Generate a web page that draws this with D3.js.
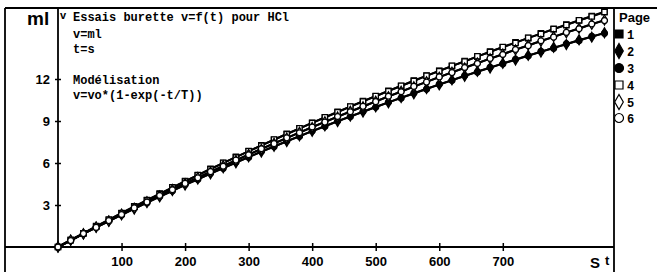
<!DOCTYPE html>
<meta charset="utf-8">
<script src="https://d3js.org/d3.v7.min.js"></script>
<style>
  body { margin: 0; background: #fff; }
  svg { display: block; }
  .mono { font-family: "Liberation Mono", "DejaVu Sans Mono", monospace; font-weight: bold; font-size: 12px; }
  .sans { font-family: "Liberation Sans", Arial, sans-serif; font-weight: bold; }
</style>
<div id="chart"></div>
<script>
// time (s), one reading every 20 s
const times = [0, 20, 40, 60, 80, 100, 120, 140, 160, 180, 200, 220, 240, 260, 280, 300,
  320, 340, 360, 380, 400, 420, 440, 460, 480, 500, 520, 540, 560, 580, 600, 620,
  640, 660, 680, 700, 720, 740, 760, 780, 800, 820, 840, 860];

// volume (ml) per page
const page1 = [0, 0.52, 0.98, 1.49, 1.93, 2.43, 2.90, 3.33, 3.82, 4.24, 4.71, 5.13, 5.59, 5.99, 6.44, 6.83,
  7.27, 7.65, 8.09, 8.46, 8.88, 9.25, 9.66, 10.02, 10.42, 10.77, 11.16, 11.50, 11.89, 12.22, 12.59, 12.92,
  13.28, 13.60, 13.96, 14.27, 14.62, 14.92, 15.26, 15.55, 15.89, 16.18, 16.50, 16.80];
const page2 = [0, 0.48, 0.93, 1.41, 1.84, 2.31, 2.72, 3.18, 3.58, 4.03, 4.42, 4.86, 5.23, 5.66, 6.02, 6.44,
  6.79, 7.20, 7.53, 7.94, 8.26, 8.65, 8.96, 9.35, 9.64, 10.02, 10.31, 10.68, 10.95, 11.32, 11.58, 11.94,
  12.19, 12.55, 12.78, 13.13, 13.36, 13.70, 13.92, 14.26, 14.46, 14.80, 14.99, 15.31];
const page3 = [0, 0.46, 0.95, 1.38, 1.86, 2.28, 2.75, 3.15, 3.61, 4.00, 4.45, 4.82, 5.26, 5.62, 6.05, 6.40,
  6.82, 7.16, 7.57, 7.89, 8.29, 8.61, 9.00, 9.30, 9.68, 9.98, 10.35, 10.63, 11.00, 11.27, 11.63, 11.89,
  12.25, 12.49, 12.84, 13.08, 13.41, 13.64, 13.97, 14.19, 14.52, 14.73, 15.05, 15.26];
const page4 = [0, 0.48, 0.97, 1.45, 1.96, 2.40, 2.87, 3.36, 3.78, 4.26, 4.68, 5.14, 5.55, 6.01, 6.40, 6.85,
  7.24, 7.68, 8.05, 8.48, 8.85, 9.27, 9.62, 10.04, 10.39, 10.79, 11.13, 11.52, 11.85, 12.24, 12.56, 12.94,
  13.25, 13.62, 13.92, 14.29, 14.58, 14.94, 15.22, 15.58, 15.85, 16.20, 16.46, 16.78];
const page5 = [0, 0.49, 0.94, 1.43, 1.86, 2.35, 2.77, 3.24, 3.65, 4.11, 4.52, 4.97, 5.36, 5.80, 6.18, 6.62,
  6.99, 7.41, 7.78, 8.19, 8.54, 8.95, 9.29, 9.69, 10.02, 10.41, 10.74, 11.12, 11.44, 11.81, 12.12, 12.49,
  12.79, 13.15, 13.44, 13.79, 14.08, 14.42, 14.70, 15.03, 15.30, 15.63, 15.90, 16.22];
const page6 = [0, 0.46, 0.96, 1.40, 1.89, 2.32, 2.79, 3.21, 3.68, 4.09, 4.54, 4.94, 5.38, 5.77, 6.21, 6.59,
  7.02, 7.38, 7.80, 8.16, 8.57, 8.92, 9.32, 9.66, 10.05, 10.38, 10.77, 11.09, 11.47, 11.78, 12.15, 12.46,
  12.82, 13.11, 13.47, 13.75, 14.11, 14.38, 14.73, 14.99, 15.33, 15.59, 15.93, 16.17];

const pageNames = ["1", "2", "3", "4", "5", "6"];
const xTicks = [100, 200, 300, 400, 500, 600, 700];
const yTicks = [3, 6, 9, 12];
const noteLines = ["Essais burette v=f(t) pour HCl", "v=ml", "t=s", "", "Modélisation", "v=vo*(1-exp(-t/T))"];

const W = 657, H = 272;
const svg = d3.select("#chart").append("svg").attr("width", W).attr("height", H);

const x = d3.scaleLinear().domain([0, 875]).range([58, 614]);
const y = d3.scaleLinear().domain([0, 239 / 14]).range([247, 8]);

// frame
const frame = svg.append("g").attr("stroke", "#000").attr("stroke-width", 1.8);
frame.append("line").attr("x1", 5).attr("x2", 5).attr("y1", 8).attr("y2", H);
frame.append("line").attr("x1", 5).attr("x2", W).attr("y1", 8).attr("y2", 8);
frame.append("line").attr("x1", 614).attr("x2", 614).attr("y1", 8).attr("y2", H);
frame.append("line").attr("x1", 5).attr("x2", 614).attr("y1", y(0)).attr("y2", y(0));
frame.append("line").attr("x1", x(0)).attr("x2", x(0)).attr("y1", 8).attr("y2", y(0));

// x axis
const gx = svg.append("g")
  .attr("transform", `translate(0,${y(0)})`)
  .call(d3.axisBottom(x).tickValues(xTicks).tickSize(0).tickPadding(10).tickFormat(d3.format("d")));
gx.select(".domain").remove();
gx.selectAll(".tick line").attr("y1", -4).attr("y2", 4).attr("stroke", "#000").attr("stroke-width", 1.5);
gx.selectAll(".tick text").attr("class", "sans").attr("font-size", 13).attr("fill", "#000");

// y axis
const gy = svg.append("g")
  .attr("transform", `translate(${x(0)},0)`)
  .call(d3.axisLeft(y).tickValues(yTicks).tickSize(0).tickPadding(8));
gy.select(".domain").remove();
gy.selectAll(".tick line").attr("x1", -3).attr("x2", 3).attr("stroke", "#000").attr("stroke-width", 1.5);
gy.selectAll(".tick text").attr("class", "sans").attr("font-size", 13).attr("fill", "#000");

// unit labels
svg.append("text").attr("class", "sans").attr("x", 27).attr("y", 25).attr("font-size", 19).text("ml");
svg.append("text").attr("class", "sans").attr("x", 60).attr("y", 19).attr("font-size", 11).text("v");
svg.append("text").attr("class", "sans").attr("x", 590).attr("y", 268).attr("font-size", 15).text("S");
svg.append("text").attr("class", "sans").attr("x", 605).attr("y", 265).attr("font-size", 13).text("t");

// notes
const noteY = [21, 37.5, 53, 69, 84, 99];
svg.append("g").selectAll("text")
  .data(noteLines)
  .join("text")
  .attr("class", "mono")
  .attr("x", 73)
  .attr("y", (d, i) => noteY[i])
  .text(d => d);

// series
const pages = [page1, page2, page3, page4, page5, page6];
const symbols = [
  {type: d3.symbolSquare, fill: true},
  {type: d3.symbolDiamond, fill: true},
  {type: d3.symbolCircle, fill: true},
  {type: d3.symbolSquare, fill: false},
  {type: d3.symbolDiamond, fill: false},
  {type: d3.symbolCircle, fill: false}
];

const line = d3.line().x(d => x(d[0])).y(d => y(d[1]));
const plot = svg.append("g");

pages.forEach(function(vals, i) {
  const pts = times.map((t, j) => [t, vals[j]]).filter(d => d[1] !== undefined);
  plot.append("path")
    .datum(pts)
    .attr("d", line)
    .attr("fill", "none")
    .attr("stroke", "#000")
    .attr("stroke-width", 2);
});

pages.forEach(function(vals, i) {
  const pts = times.map((t, j) => [t, vals[j]]).filter(d => d[1] !== undefined);
  const s = symbols[i];
  plot.append("g").selectAll("path")
    .data(pts)
    .join("path")
    .attr("transform", d => `translate(${x(d[0])},${y(d[1])})`)
    .attr("d", d3.symbol().type(s.type).size(28))
    .attr("fill", s.fill ? "#000" : "#fff")
    .attr("stroke", "#000")
    .attr("stroke-width", 1.3);
});

// legend
const leg = svg.append("g");
leg.append("text").attr("class", "sans").attr("x", 619).attr("y", 22).attr("font-size", 13).text("Page");
const legY = [34, 51, 68, 85, 102, 118];
pageNames.forEach(function(name, i) {
  const s = symbols[i];
  leg.append("path")
    .attr("transform", `translate(619,${legY[i]})`)
    .attr("d", d3.symbol().type(s.type).size(64))
    .attr("fill", s.fill ? "#000" : "#fff")
    .attr("stroke", "#000")
    .attr("stroke-width", 1.2);
  leg.append("text")
    .attr("class", "mono")
    .attr("x", 627)
    .attr("y", legY[i] + 5)
    .attr("font-size", 13)
    .text(name);
});
</script>
